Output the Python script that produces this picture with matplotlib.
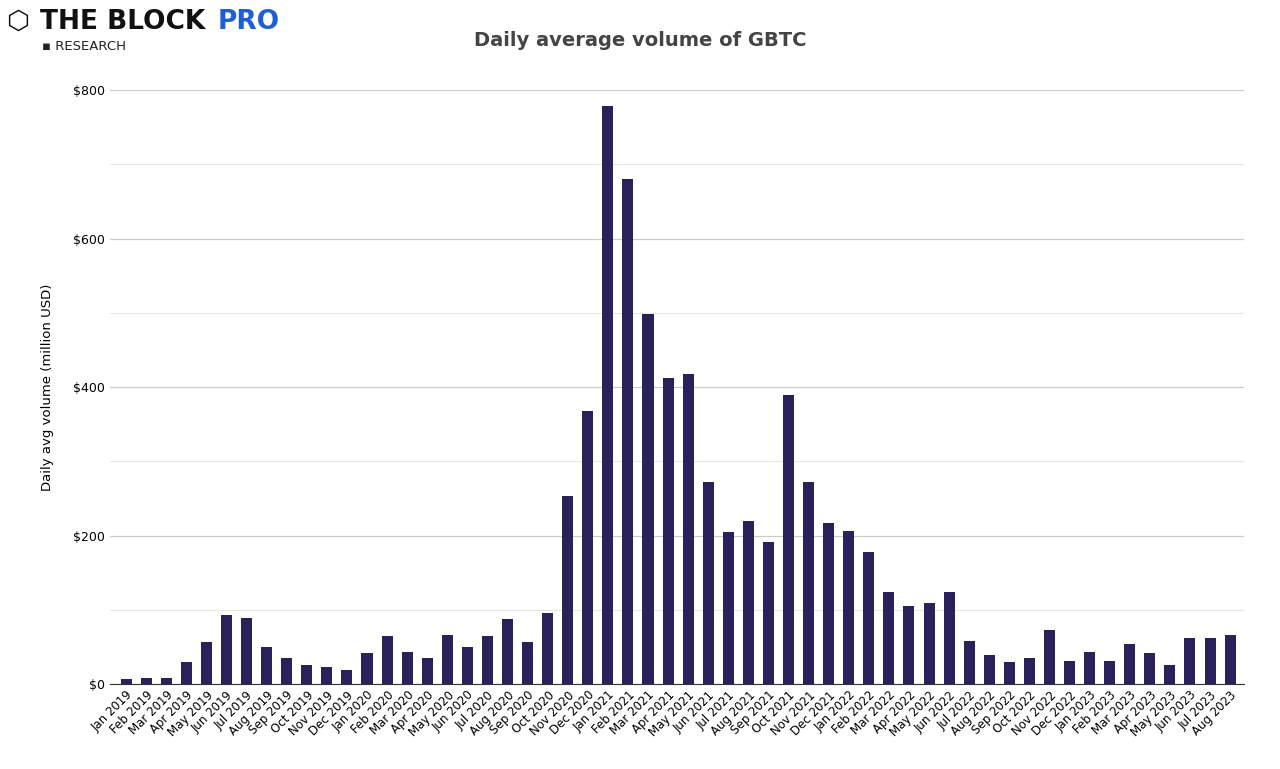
import matplotlib.pyplot as plt
from matplotlib.ticker import MultipleLocator

months = ['Jan', 'Feb', 'Mar', 'Apr', 'May', 'Jun', 'Jul', 'Aug', 'Sep', 'Oct', 'Nov', 'Dec']
labels = [f'{m} {y}' for y in (2019, 2020, 2021, 2022) for m in months] + \
         [f'{m} 2023' for m in months[:8]]
volume = [7, 8, 8, 30, 57, 93, 89, 51, 35, 26, 24, 19,
          42, 65, 43, 35, 67, 51, 65, 88, 57, 96, 253, 368,
          778, 680, 498, 413, 418, 273, 205, 220, 191, 390, 273, 217,
          207, 178, 124, 106, 110, 124, 58, 39, 30, 35, 73, 32,
          43, 32, 54, 42, 26, 63, 63, 66]

fig = plt.figure(figsize=(12.8, 7.69), dpi=100)
ax = fig.add_axes([0.086, 0.11, 0.886, 0.773])
ax.bar(range(len(volume)), volume, width=0.55, color='#29225a', zorder=3)

ax.set_ylim(0, 800)
ax.set_xlim(-0.8, len(volume) - 0.3)
ax.yaxis.set_major_locator(MultipleLocator(200))
ax.yaxis.set_minor_locator(MultipleLocator(100))
ax.yaxis.set_major_formatter(lambda v, p: f'${v:.0f}')
ax.grid(axis='y', which='major', color='#cccccc', lw=0.9, zorder=0)
ax.grid(axis='y', which='minor', color='#e6e6e6', lw=0.8, zorder=0)
ax.tick_params(axis='y', which='both', length=0, labelsize=9)
ax.set_xticks(range(len(volume)))
ax.set_xticklabels(labels, rotation=45, ha='right', fontsize=8.5, rotation_mode='anchor')
ax.tick_params(axis='x', length=0, pad=3)
for s in ['top', 'right', 'left']:
    ax.spines[s].set_visible(False)
ax.spines['bottom'].set_color('#333333')
ax.set_ylabel('Daily avg volume (million USD)', fontsize=9.5, labelpad=14)

fig.text(0.5, 0.94, 'Daily average volume of GBTC', ha='center', fontsize=14,
         fontweight='bold', color='#444444')
fig.text(0.031, 0.972, 'THE BLOCK', fontsize=19, fontweight='bold', color='#111111', va='center')
fig.text(0.17, 0.972, 'PRO', fontsize=19, fontweight='bold', color='#1f5fd6', va='center')
fig.text(0.033, 0.94, '▪ RESEARCH', fontsize=9.5, color='#222222', va='center')
fig.text(0.005, 0.972, '⬡', fontsize=19, color='#111111', va='center')

fig.savefig('out.png')
